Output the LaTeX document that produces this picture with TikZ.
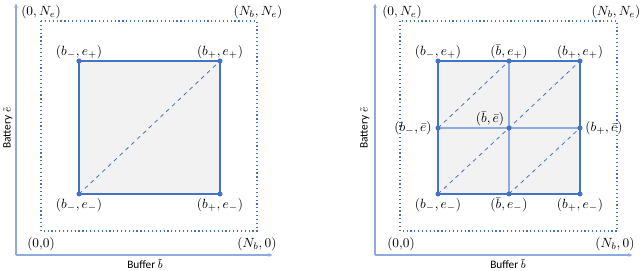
\documentclass[tikz,border=0pt]{standalone}
\usepackage{fontspec}
\setmainfont{Carlito}
\usetikzlibrary{arrows.meta}
\definecolor{edgeblue}{RGB}{68,114,196}
\definecolor{lightblue}{RGB}{143,170,220}
\definecolor{cellgray}{RGB}{242,242,242}
\tikzset{
  axis/.style={lightblue,line width=1.4pt,-{Latex[length=3.5pt,width=3pt]}},
  dotbox/.style={edgeblue,line width=0.9pt,dotted},
  cell/.style={fill=cellgray,draw=edgeblue,line width=1.4pt},
  midline/.style={lightblue,line width=1.2pt},
  diag/.style={edgeblue,line width=0.6pt,dashed},
  pt/.style={circle,fill=edgeblue,inner sep=0pt,minimum size=3.8pt},
  lbl/.style={font=\fontsize{10}{12}\selectfont,inner sep=1pt},
  axlbl/.style={font=\fontsize{8.5}{10}\selectfont,inner sep=1pt}
}
\begin{document}
\begin{tikzpicture}[x=0.75pt,y=-0.75pt]
\useasboundingbox (0,0) rectangle (640,271);
% left panel: single cell
\coordinate (oL) at (16,255);
\coordinate (xL) at (273,255);
\coordinate (yL) at (16,3);
\draw[axis] (oL) -- (xL);
\draw[axis] (oL) -- (yL);
\draw[dotbox] (41,21) rectangle (257,231);
\coordinate (mmL) at (79,194);
\coordinate (pmL) at (220,194);
\coordinate (ppL) at (220,61);
\coordinate (mpL) at (79,61);
\draw[cell] (mmL) -- (pmL) -- (ppL) -- (mpL) -- cycle;
\draw[diag] (mmL) -- (ppL);
\foreach \c in {mmL,pmL,ppL,mpL}
  \node[pt] at (\c) {};
\node[lbl] (lmpL) at (79,52) {$(b_-,e_+)$};
\node[lbl] (lppL) at (220,52) {$(b_+,e_+)$};
\node[lbl] (lmmL) at (79,205) {$(b_-,e_-)$};
\node[lbl] (lpmL) at (220,205) {$(b_+,e_-)$};
\node[lbl] (c0NL) at (41,12) {$(0,N_e)$};
\node[lbl] (cNNL) at (258,12) {$(N_b,N_e)$};
\node[lbl] (c00L) at (41,244) {$(0{,}0)$};
\node[lbl] (cN0L) at (257,244) {$(N_b,0)$};
\node[axlbl] (bufL) at (145,264) {Buffer $\tilde{b}$};
\node[axlbl,rotate=90] (batL) at (8,128) {Battery $\tilde{e}$};
% right panel: split into four cells
\coordinate (oR) at (375,255);
\coordinate (xR) at (633,255);
\coordinate (yR) at (375,3);
\draw[axis] (oR) -- (xR);
\draw[axis] (oR) -- (yR);
\draw[dotbox] (400,21) rectangle (617,231);
\coordinate (mm) at (438,194);
\coordinate (cm) at (509,194);
\coordinate (pm) at (580,194);
\coordinate (mc) at (438,128);
\coordinate (cc) at (509,128);
\coordinate (pc) at (580,128);
\coordinate (mp) at (438,61);
\coordinate (cp) at (509,61);
\coordinate (pp) at (580,61);
\draw[cell] (mm) -- (pm) -- (pp) -- (mp) -- cycle;
\draw[midline] (cm) -- (cp);
\draw[midline] (mc) -- (pc);
\draw[diag] (mm) -- (cc) -- (pp);
\draw[diag] (mc) -- (cp);
\draw[diag] (cm) -- (pc);
\draw[edgeblue,line width=1.4pt] (mm) -- (pm) -- (pp) -- (mp) -- cycle;
\foreach \c in {mm,cm,pm,mc,cc,pc,mp,cp,pp}
  \node[pt] at (\c) {};
\node[lbl] (lmp) at (438,52) {$(b_-,e_+)$};
\node[lbl] (lcp) at (509,52) {$(\bar{b},e_+)$};
\node[lbl] (lpp) at (580,52) {$(b_+,e_+)$};
\node[lbl] (lmc) at (413,128) {$(b_-,\bar{e})$};
\node[lbl] (lcc) at (490,119) {$(\bar{b},\bar{e})$};
\node[lbl] (lpc) at (604,128) {$(b_+,\bar{e})$};
\node[lbl] (lmm) at (438,205) {$(b_-,e_-)$};
\node[lbl] (lcm) at (509,205) {$(\bar{b},e_-)$};
\node[lbl] (lpm) at (580,205) {$(b_+,e_-)$};
\node[lbl] (c0NR) at (402,12) {$(0,N_e)$};
\node[lbl] (cNNR) at (616,12) {$(N_b,N_e)$};
\node[lbl] (c00R) at (401,244) {$(0{,}0)$};
\node[lbl] (cN0R) at (615,244) {$(N_b,0)$};
\node[axlbl] (bufR) at (508,264) {Buffer $\tilde{b}$};
\node[axlbl,rotate=90] (batR) at (365,128) {Battery $\tilde{e}$};
\end{tikzpicture}
\end{document}
